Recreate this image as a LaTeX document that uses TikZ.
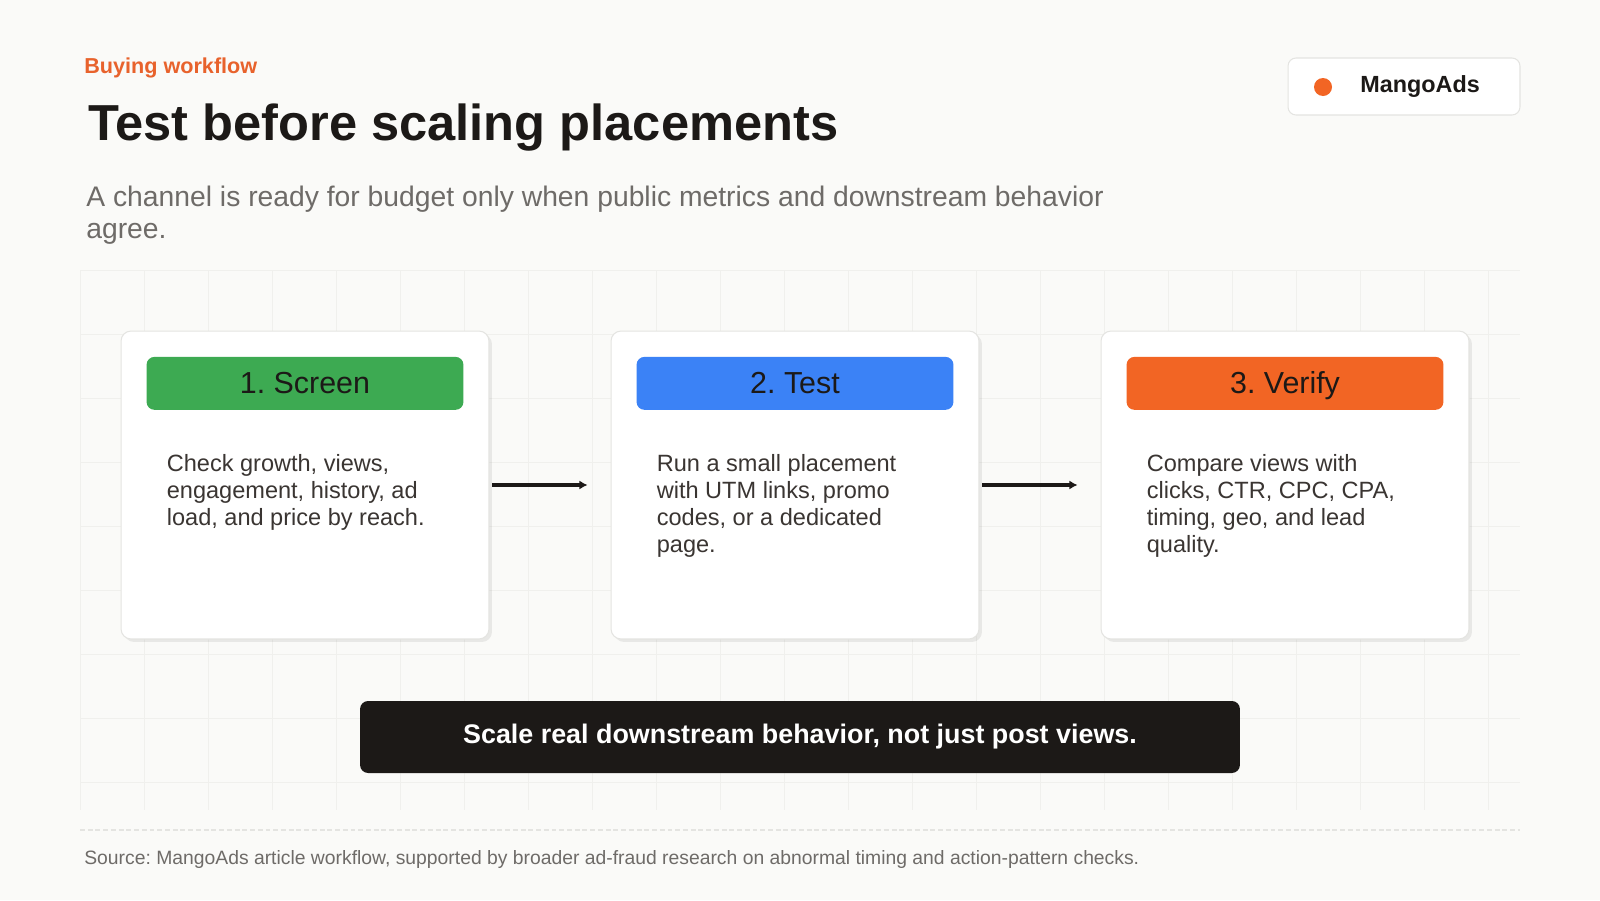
\documentclass[tikz,border=0pt]{standalone}
\usepackage{fontspec}
\setmainfont{Liberation Sans}
\usepackage{xcolor}
\usepackage{tikz}
\usetikzlibrary{positioning,arrows.meta,shadows}
\frenchspacing

\definecolor{PageBg}{HTML}{FAFAF8}
\definecolor{GridLine}{HTML}{F0F0ED}
\definecolor{Accent}{HTML}{E8622C}
\definecolor{ScreenGreen}{HTML}{3DAA52}
\definecolor{TestBlue}{HTML}{3B82F6}
\definecolor{VerifyOrange}{HTML}{F26524}
\definecolor{Ink}{HTML}{1C1917}
\definecolor{BodyInk}{HTML}{3A3532}
\definecolor{SoftGray}{HTML}{6E6B68}
\definecolor{CardLine}{HTML}{E4E4E1}

\begin{document}
\begin{tikzpicture}[x=0.02cm, y=-0.02cm,
    card/.style={draw=CardLine, line width=0.6pt, fill=white, rounded corners=0.2cm,
        minimum width=7.36cm, minimum height=6.16cm,
        drop shadow={shadow xshift=0.06cm, shadow yshift=-0.06cm, fill=black, opacity=0.07}},
    head/.style={rounded corners=0.16cm, minimum width=6.34cm, minimum height=1.06cm,
        inner sep=0pt, text height=15pt, text depth=3pt, text=Ink, font=\fontsize{17.3}{20}\selectfont},
    body/.style={align=left, inner sep=0pt, text=BodyInk, font=\fontsize{13.4}{15.3}\selectfont},
    flow/.style={line width=2pt, draw=Ink, -{Latex[length=4.6pt,width=5.2pt]},
        shorten <=0.06cm, shorten >=0.46cm}]

    %Page and grid
    \fill[PageBg] (0,0) rectangle (1600,900);
    \useasboundingbox (0,0) rectangle (1600,900);
    \foreach \gx in {80,144,...,1488} \draw[GridLine, line width=0.5pt] (\gx,270) -- (\gx,810);
    \foreach \gy in {270,334,...,782} \draw[GridLine, line width=0.5pt] (80,\gy) -- (1520,\gy);

    %Heading
    \node[anchor=base west, inner sep=0pt, text=Accent, font=\bfseries\fontsize{12.3}{14}\selectfont] (kicker) at (84,73) {Buying workflow};
    \node[anchor=base west, inner sep=0pt, text=Ink, font=\bfseries\fontsize{28.8}{34}\selectfont] (title) at (88,140) {Test before scaling placements};
    \node[anchor=north west, inner sep=0pt, align=left, text=SoftGray, font=\fontsize{16.1}{18.2}\selectfont] (subtitle) at (86,186)
        {A channel is ready for budget only when public metrics and downstream behavior\\agree.};

    %Logo badge
    \node[draw=CardLine, line width=0.6pt, fill=white, rounded corners=0.16cm, minimum width=4.64cm, minimum height=1.14cm] (badge) at (1404,86.5) {};
    \fill[VerifyOrange] (1323,87) circle [radius=9];
    \node[anchor=west, inner sep=0pt, text=Ink, font=\bfseries\fontsize{13.3}{16}\selectfont] (brand) at (1360,87) {MangoAds};

    %Cards
    \node[card] (screen) at (305,485) {};
    \node[card] (test) at (795,485) {};
    \node[card] (verify) at (1285,485) {};

    \node[head, fill=ScreenGreen, below=0.52cm of screen.north] (screenhead) {1. Screen};
    \node[head, fill=TestBlue, below=0.52cm of test.north] (testhead) {2. Test};
    \node[head, fill=VerifyOrange, below=0.52cm of verify.north] (verifyhead) {3. Verify};

    \node[body, below right=2.48cm and 0.92cm of screen.north west] (screentext)
        {Check growth, views,\\engagement, history, ad\\load, and price by reach.};
    \node[body, below right=2.48cm and 0.92cm of test.north west] (testtext)
        {Run a small placement\\with UTM links, promo\\codes, or a dedicated\\page.};
    \node[body, below right=2.48cm and 0.92cm of verify.north west] (verifytext)
        {Compare views with\\clicks, CTR, CPC, CPA,\\timing, geo, and lead\\quality.};

    %Arrows
    \draw[flow] (screen) -- (test);
    \draw[flow] (test) -- (verify);

    %Takeaway
    \node[fill=Ink, rounded corners=0.16cm, minimum width=17.6cm, minimum height=1.44cm, text=white,
        font=\bfseries\fontsize{15.3}{18}\selectfont] (takeaway) at (800,737) {Scale real downstream behavior, not just post views.};

    %Footer
    \draw[CardLine, line width=0.9pt, dash pattern=on 2.8pt off 1.6pt] (80,830) -- (1520,830);
    \node[anchor=base west, inner sep=0pt, text=SoftGray, font=\fontsize{11}{12}\selectfont] (source) at (84,864)
        {Source: MangoAds article workflow, supported by broader ad-fraud research on abnormal timing and action-pattern checks.};

\end{tikzpicture}
\end{document}
